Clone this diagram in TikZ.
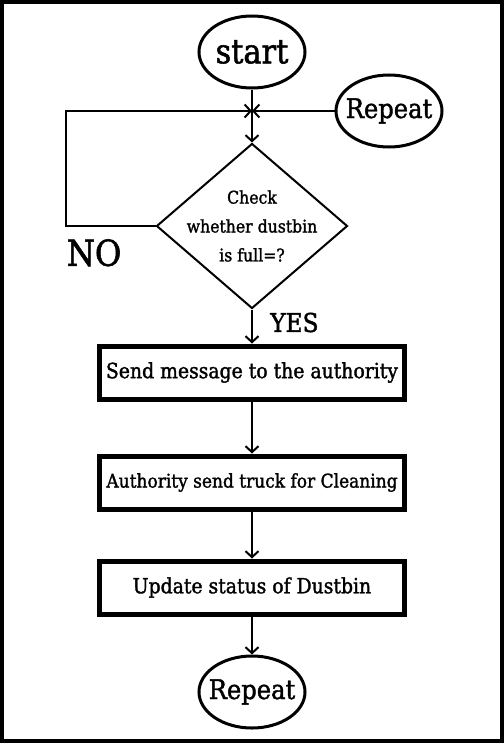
\documentclass[tikz,border=0pt]{standalone}
\usepackage{fontspec}
\setmainfont[FakeBold=1.5]{DejaVu Serif Condensed}
\usepackage{tikz}
\usetikzlibrary{
  shapes.geometric,
  arrows.meta,
  positioning
}
\tikzset{
  termnode/.style = {
    ellipse, draw=black, line width=3bp,
    minimum width=#1, minimum height=72bp,
    inner xsep=-20bp, inner ysep=0pt
  },
  termnode/.default = 106bp,
  block/.style = {
    rectangle, draw=black, line width=5bp,
    minimum width=305bp, minimum height=53bp,
    inner sep=0pt, font=#1
  },
  block/.default = {\fontsize{21}{24}\selectfont},
  decision/.style = {
    diamond, draw=black, line width=2bp,
    minimum width=191bp, minimum height=165bp,
    inner sep=0pt
  },
  arr/.style = {-{Straight Barb[length=6bp, width=13bp]}, draw=black, line width=2bp},
  lbl/.style = {font=\fontsize{#1}{#1}\selectfont, inner sep=0pt},
  lbl/.default = 24,
}

\begin{document}
\begin{tikzpicture}[x=1bp, y=1bp]

  \useasboundingbox (0,0) rectangle (504,-743);
  \draw[line width=4bp] (2,-2) rectangle (502,-741);

  %% main column
  \node[termnode, font=\fontsize{34}{34}\selectfont] (start) at (252,-52) {start};
  \node[decision, below=53bp of start] (check) {};
  \node[align=center, font=\fontsize{17.5}{29}\selectfont] (checktxt) at (check)
    {Check\\whether dustbin\\is full=?};
  \node[block, below=34bp of check] (b1) {Send message to the authority};
  \node[block={\fontsize{19}{22}\selectfont}, below=52bp of b1] (b2)
    {Authority send truck for Cleaning};
  \node[block, below=47bp of b2] (b3) {Update status of Dustbin};
  \node[termnode, font=\fontsize{27}{27}\selectfont, below=38bp of b3] (rep2) {Repeat};

  %% loop back
  \node[termnode, font=\fontsize{27}{27}\selectfont, right=28bp of start, yshift=-59bp] (rep1) {Repeat};
  \coordinate (join) at (start |- rep1);

  %% arrows
  \draw[arr] (start) -- (check);
  \draw[arr] (rep1) -- (join);
  \draw[arr] (check.west) -- ++(-89,0) coordinate (nocorner) |- (join);
  \draw[arr] (check) -- (b1);
  \draw[arr] (b1) -- (b2);
  \draw[arr] (b2) -- (b3);
  \draw[arr] (b3) -- (rep2);

  %% Labels
  \node[lbl=36, anchor=north west] (no) at ([yshift=-13bp]nocorner) {NO};
  \node[lbl=26, anchor=north west] (yes) at ([xshift=18bp, yshift=-3bp]check.south) {YES};

\end{tikzpicture}
\end{document}
